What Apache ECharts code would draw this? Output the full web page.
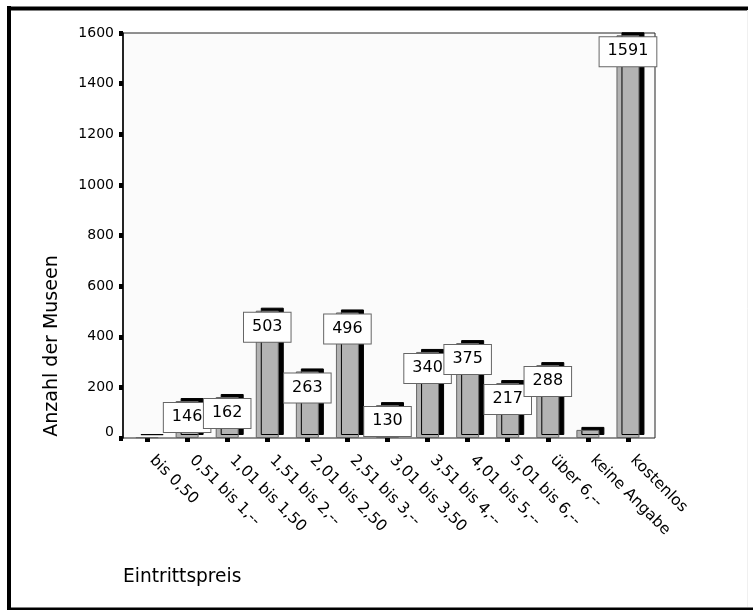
<!DOCTYPE html>
<html>
<head>
<meta charset="utf-8">
<script src="https://cdn.jsdelivr.net/npm/echarts@6/dist/echarts.min.js"></script>
<style>
  html, body { margin: 0; padding: 0; background: #fff; }
  #chart { width: 753px; height: 610px; }
</style>
</head>
<body>
<div id="chart"></div>
<script>
// Museen nach Eintrittspreis
const categories = [
  'bis 0,50', '0,51 bis 1,--', '1,01 bis 1,50', '1,51 bis 2,--',
  '2,01 bis 2,50', '2,51 bis 3,--', '3,01 bis 3,50', '3,51 bis 4,--',
  '4,01 bis 5,--', '5,01 bis 6,--', 'über 6,--', 'keine Angabe', 'kostenlos'
];
const museumCounts = [3, 146, 162, 503, 263, 496, 130, 340, 375, 217, 288, 32, 1591];
const unlabeled = ['bis 0,50', 'keine Angabe'];
const yTicks = { min: 0, max: 1600, step: 200 };

const FONT = 'DejaVu Sans';

const barData = museumCounts.map((v, i) => ({
  value: v,
  label: { show: unlabeled.indexOf(categories[i]) < 0 }
}));

const chart = echarts.init(document.getElementById('chart'), null, { renderer: 'canvas' });

chart.setOption({
  animation: false,
  backgroundColor: '#ffffff',
  textStyle: { fontFamily: FONT },
  grid: [
    // plot frame with the value axis
    { left: 123, top: 33, width: 532, height: 405, show: true,
      backgroundColor: '#fbfbfb', borderColor: '#222', borderWidth: 1 },
    // category bands for the bars
    { left: 127, top: 33, width: 521, height: 405 }
  ],
  xAxis: [
    { gridIndex: 0, type: 'value', show: false },
    {
      gridIndex: 1, type: 'category', data: categories,
      axisLine: { show: false },
      axisTick: { show: true, alignWithLabel: true, length: 4,
                  lineStyle: { color: '#000', width: 5 } },
      axisLabel: { rotate: -45, margin: 15, interval: 0, color: '#000',
                   fontFamily: FONT, fontSize: 15.5, padding: [0, 0, 0, 7] },
      splitLine: { show: false }
    }
  ],
  yAxis: [
    {
      gridIndex: 0, type: 'value',
      min: yTicks.min, max: yTicks.max, interval: yTicks.step,
      axisLine: { show: true, lineStyle: { color: '#000', width: 1.5 } },
      axisTick: { show: true, length: 4, lineStyle: { color: '#000', width: 5 } },
      axisLabel: {
        color: '#000', fontFamily: FONT, fontSize: 14, margin: 9,
        formatter: v => v === 0 ? '{z|0}' : String(v),
        rich: { z: { fontFamily: FONT, fontSize: 14, color: '#000', padding: [0, 0, 12, 0] } }
      },
      splitLine: { show: false }
    },
    {
      gridIndex: 1, type: 'value',
      min: yTicks.min, max: yTicks.max, interval: yTicks.step,
      show: false
    }
  ],
  series: [
    {
      type: 'bar',
      xAxisIndex: 1, yAxisIndex: 1,
      data: barData,
      barWidth: 23,
      itemStyle: {
        color: '#b3b3b3',
        borderColor: '#666',
        borderWidth: 1,
        shadowColor: '#000',
        shadowBlur: 0,
        shadowOffsetX: 5,
        shadowOffsetY: -3
      },
      label: {
        position: 'insideTop',
        distance: 2,
        color: '#000',
        fontFamily: FONT,
        fontSize: 16,
        lineHeight: 18,
        backgroundColor: '#fff',
        borderColor: '#666',
        borderWidth: 1,
        padding: [5, 8, 6, 8]
      }
    }
  ],
  graphic: [
    { type: 'line', shape: { x1: 9, y1: 6, x2: 9, y2: 610 }, style: { stroke: '#000', lineWidth: 4 } },
    { type: 'line', shape: { x1: 7, y1: 8.5, x2: 748, y2: 8.5 }, style: { stroke: '#000', lineWidth: 4 } },
    { type: 'line', shape: { x1: 7, y1: 609, x2: 753, y2: 609 }, style: { stroke: '#000', lineWidth: 3 } },
    { type: 'line', shape: { x1: 747.5, y1: 10, x2: 747.5, y2: 607 }, style: { stroke: '#f0f0f0', lineWidth: 1 } },
    {
      type: 'text', x: 52, y: 346, rotation: Math.PI / 2,
      style: { text: 'Anzahl der Museen', fontFamily: FONT, fontSize: 19, fill: '#000',
               textAlign: 'center', textVerticalAlign: 'middle' }
    },
    {
      type: 'text', x: 123, y: 577,
      style: { text: 'Eintrittspreis', fontFamily: FONT, fontSize: 18.6, fill: '#000',
               textAlign: 'left', textVerticalAlign: 'middle' }
    }
  ]
});
</script>
</body>
</html>
